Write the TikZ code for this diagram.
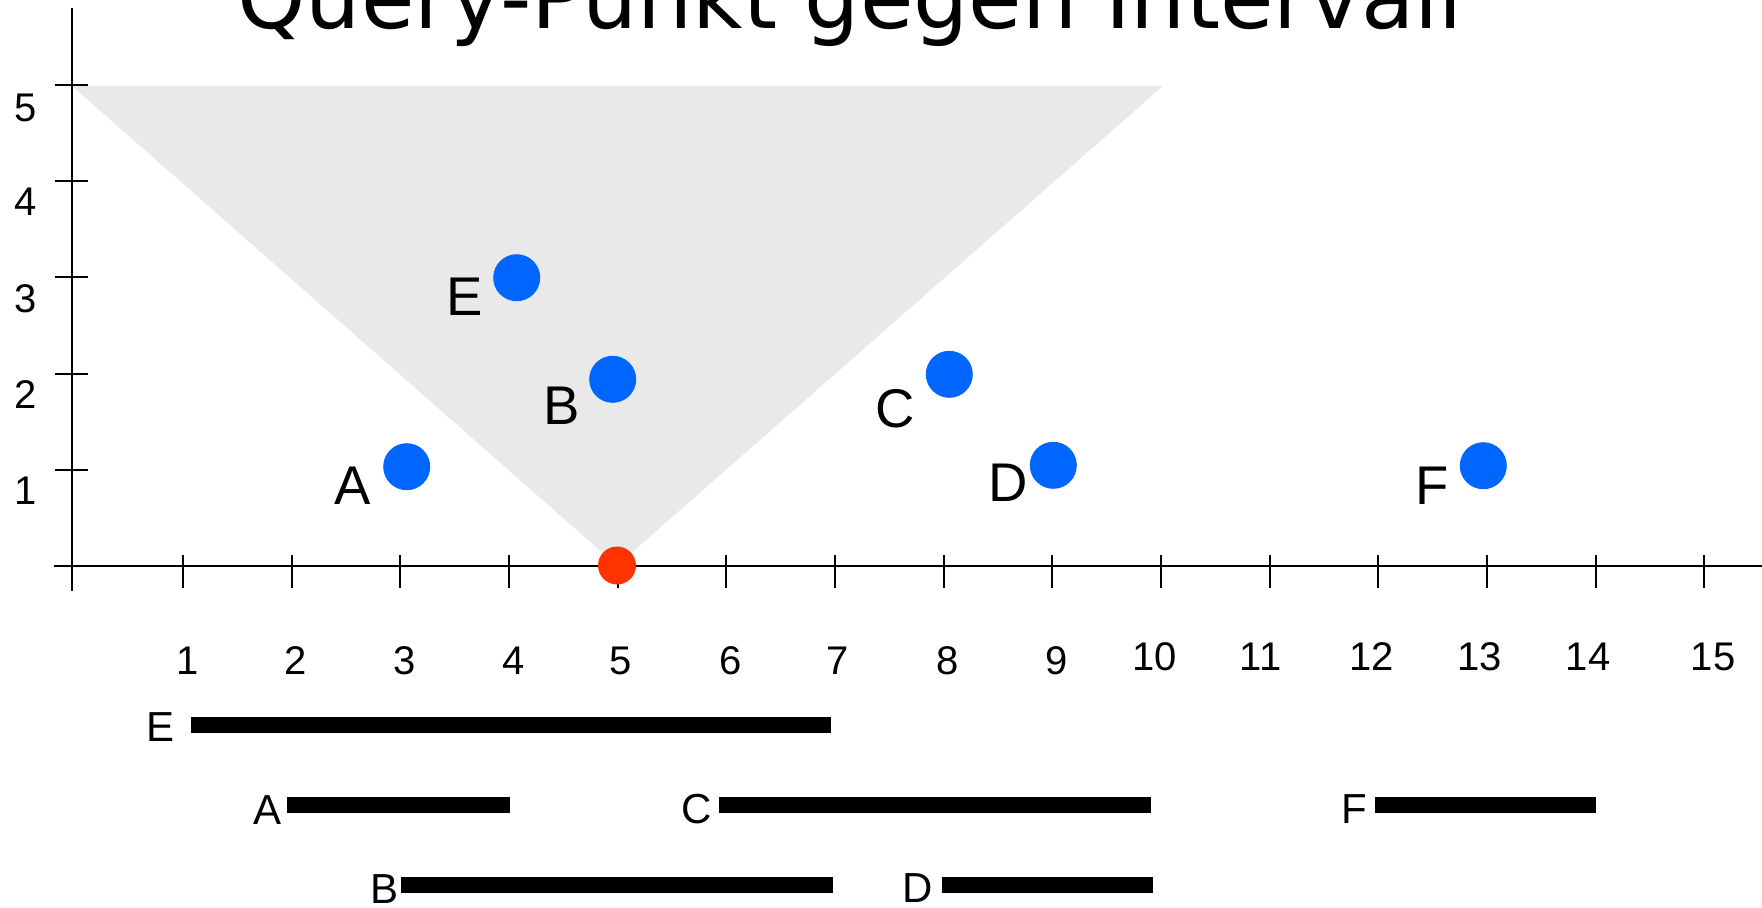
\documentclass[tikz,border=0pt]{standalone}
\usepackage{fontspec}
\setmainfont{Liberation Sans}
\newfontfamily\titlefont{DejaVu Sans}
\definecolor{trigray}{HTML}{E9E9E9}
\definecolor{ptblue}{HTML}{0066FF}
\definecolor{ptred}{HTML}{FF3300}
\begin{document}
\begin{tikzpicture}[x=0.5pt,y=-0.5pt,
  axisline/.style={line width=1.1pt,black},
  tickline/.style={line width=1pt,black},
  bluedot/.style={circle,fill=ptblue,minimum size=23.5pt,inner sep=0pt},
  reddot/.style={circle,fill=ptred,minimum size=19pt,inner sep=0pt},
  ptlabel/.style={font=\fontsize{27.25pt}{30pt}\selectfont,inner sep=0pt},
  numlabel/.style={font=\fontsize{20pt}{24pt}\selectfont,inner sep=0pt},
  ivlabel/.style={font=\fontsize{21pt}{24pt}\selectfont,inner sep=0pt},
  ivbar/.style={fill=black}]
\useasboundingbox (0,0) rectangle (1762,907);
% title
\node[anchor=base west,inner sep=0pt,font=\titlefont\fontsize{43.5pt}{50pt}\selectfont] (title) at (237,28.3) {Query-Punkt gegen Intervall};
% triangle
\fill[trigray] (72,86) -- (1163,86) -- (617,565.5) -- cycle;
% axes
\coordinate (ytop) at (72,8);
\coordinate (ybot) at (72,591);
\coordinate (xleft) at (54,565.7);
\coordinate (xright) at (1762,565.7);
\draw[axisline] (ytop) -- (ybot);
\draw[axisline] (xleft) -- (xright);
\foreach \k in {1,...,5} \draw[tickline] (55,{565.7-96.1*\k}) -- (88,{565.7-96.1*\k});
\foreach \k in {1,...,15} \draw[tickline] ({74.3+108.67*\k},555) -- ({74.3+108.67*\k},588);
% y labels
\node[numlabel] (y1) at (26,491) {1};
\node[numlabel] (y2) at (26,395) {2};
\node[numlabel] (y3) at (26,299) {3};
\node[numlabel] (y4) at (26,202) {4};
\node[numlabel] (y5) at (26,107.5) {5};
% x labels
\node[numlabel] (x1) at (188,661) {1};
\node[numlabel] (x2) at (296,661) {2};
\node[numlabel] (x3) at (405,661) {3};
\node[numlabel] (x4) at (513.6,661) {4};
\node[numlabel] (x5) at (620.5,661) {5};
\node[numlabel] (x6) at (730.6,661) {6};
\node[numlabel] (x7) at (838,661) {7};
\node[numlabel] (x8) at (947.7,661) {8};
\node[numlabel] (x9) at (1056.5,661) {9};
\node[numlabel] (x10) at (1154.5,657) {10};
\node[numlabel] (x11) at (1260.5,657) {11};
\node[numlabel] (x12) at (1371.5,657) {12};
\node[numlabel] (x13) at (1479.6,657) {13};
\node[numlabel] (x14) at (1588,657) {14};
\node[numlabel] (x15) at (1713,657) {15};
% points
\node[bluedot] (pE) at (516.7,277.7) {};
\node[bluedot] (pB) at (612.7,379.3) {};
\node[bluedot] (pA) at (406.7,466.7) {};
\node[bluedot] (pC) at (949.3,374.3) {};
\node[bluedot] (pD) at (1053.3,465.3) {};
\node[bluedot] (pF) at (1483.3,465.7) {};
\node[reddot] (q) at (617,565.5) {};
% point labels
\node[ptlabel] (lE) at (464.2,296.3) {E};
\node[ptlabel] (lB) at (561.3,405.8) {B};
\node[ptlabel] (lA) at (352.2,485.8) {A};
\node[ptlabel] (lC) at (894.8,408.7) {C};
\node[ptlabel] (lD) at (1008,483) {D};
\node[ptlabel] (lF) at (1431.7,485.5) {F};
% intervals
\fill[ivbar] (190.7,717.3) rectangle (830.7,732.7);
\fill[ivbar] (287,797.3) rectangle (510.4,812.7);
\fill[ivbar] (718.8,797.3) rectangle (1150.7,812.7);
\fill[ivbar] (1375,797.3) rectangle (1596,812.7);
\fill[ivbar] (401.4,877.3) rectangle (833,892.7);
\fill[ivbar] (941.9,877.3) rectangle (1153,892.7);
\node[ivlabel] (iE) at (160.3,726.7) {E};
\node[ivlabel] (iA) at (267.3,810) {A};
\node[ivlabel] (iC) at (697,809.3) {C};
\node[ivlabel] (iF) at (1354.3,809) {F};
\node[ivlabel] (iB) at (385,889) {B};
\node[ivlabel] (iD) at (918,888) {D};
\end{tikzpicture}
\end{document}
